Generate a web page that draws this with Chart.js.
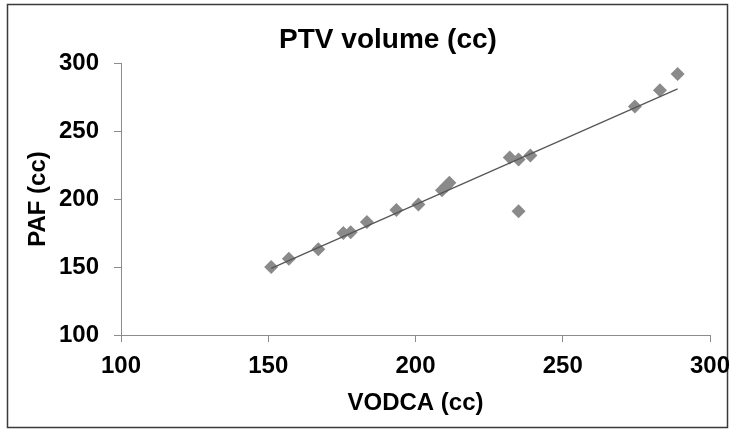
<!DOCTYPE html>
<html>
<head>
<meta charset="utf-8">
<script src="https://cdn.jsdelivr.net/npm/chart.js@4"></script>
<style>
  html, body { margin: 0; padding: 0; background: #fff; }
  #wrap { width: 733px; height: 431px; position: relative; }
</style>
</head>
<body>
<div id="wrap"><canvas id="ptvChart" width="733" height="431"></canvas></div>
<script>
// values
const vodca = [151, 157, 167, 175.5, 178, 183.5, 193.5, 201, 209, 210.5, 211.5, 232, 235, 239, 235, 274.5, 283, 289];
const paf   = [150, 156, 163, 175, 175.5, 183, 192, 196, 206.5, 209.5, 212, 230.5, 229, 232, 191, 268, 280, 292];

// trendline end points, as drawn in the picture
const trendX = [151, 289];
const trendY = [149, 281];

const axisTicks = [100, 150, 200, 250, 300];
const chartTitle = 'PTV volume (cc)';
const xTitle = 'VODCA (cc)';
const yTitle = 'PAF (cc)';

const FONT = '"Liberation Sans", Arial, sans-serif';

// frame round the figure and the title above the plot
const framePlugin = {
  id: 'frame',
  beforeDraw(chart) {
    const ctx = chart.ctx;
    ctx.save();
    ctx.fillStyle = '#fff';
    ctx.fillRect(0, 0, chart.width, chart.height);
    ctx.strokeStyle = '#3a3a3a';
    ctx.lineWidth = 1.5;
    ctx.strokeRect(7.5, 4.5, 720, 423);
    ctx.restore();
  },
  afterDraw(chart) {
    const ctx = chart.ctx;
    ctx.save();
    ctx.fillStyle = '#000';
    ctx.font = 'bold 28px ' + FONT;
    ctx.textAlign = 'center';
    ctx.textBaseline = 'middle';
    ctx.fillText(chartTitle, 388, 40);
    ctx.restore();
  }
};

const tickFont = { family: FONT, size: 24, weight: 'bold' };

const ctx = document.getElementById('ptvChart').getContext('2d');
new Chart(ctx, {
  type: 'scatter',
  data: {
    datasets: [
      {
        type: 'line',
        label: 'trend',
        data: trendX.map((x, i) => ({ x: x, y: trendY[i] })),
        borderColor: '#555',
        borderWidth: 1.2,
        pointRadius: 0,
        fill: false,
        order: 0
      },
      {
        label: 'PTV',
        data: vodca.map((x, i) => ({ x: x, y: paf[i] })),
        pointStyle: 'rectRot',
        pointRadius: 7,
        backgroundColor: '#8a8a8a',
        borderColor: '#8a8a8a',
        borderWidth: 0,
        order: 1
      }
    ]
  },
  options: {
    responsive: false,
    animation: false,
    layout: { padding: { left: 20, right: 23, top: 63, bottom: 9 } },
    plugins: {
      legend: { display: false },
      tooltip: { enabled: false },
      title: { display: false }
    },
    scales: {
      x: {
        type: 'linear',
        min: 100,
        max: 300,
        afterBuildTicks: s => { s.ticks = axisTicks.map(v => ({ value: v })); },
        afterFit: s => {
          s.height = 431 - 9 - 335;
          s.paddingLeft = 0;
          s.paddingRight = 0;
        },
        grid: { drawOnChartArea: false, tickLength: 7, color: '#8c8c8c' },
        border: { color: '#8c8c8c', width: 1 },
        ticks: { color: '#000', font: tickFont, padding: 10, maxRotation: 0 },
        title: { display: true, text: xTitle, color: '#000', font: tickFont, padding: 4 }
      },
      y: {
        type: 'linear',
        min: 100,
        max: 300,
        afterBuildTicks: s => { s.ticks = axisTicks.map(v => ({ value: v })); },
        afterFit: s => {
          s.width = 121 - 20;
          s.paddingTop = 0;
          s.paddingBottom = 0;
        },
        grid: { drawOnChartArea: false, tickLength: 7, color: '#8c8c8c' },
        border: { color: '#8c8c8c', width: 1 },
        ticks: { color: '#000', font: tickFont, padding: 15 },
        title: { display: true, text: yTitle, color: '#000', font: tickFont, padding: 4 }
      }
    }
  },
  plugins: [framePlugin]
});
</script>
</body>
</html>
